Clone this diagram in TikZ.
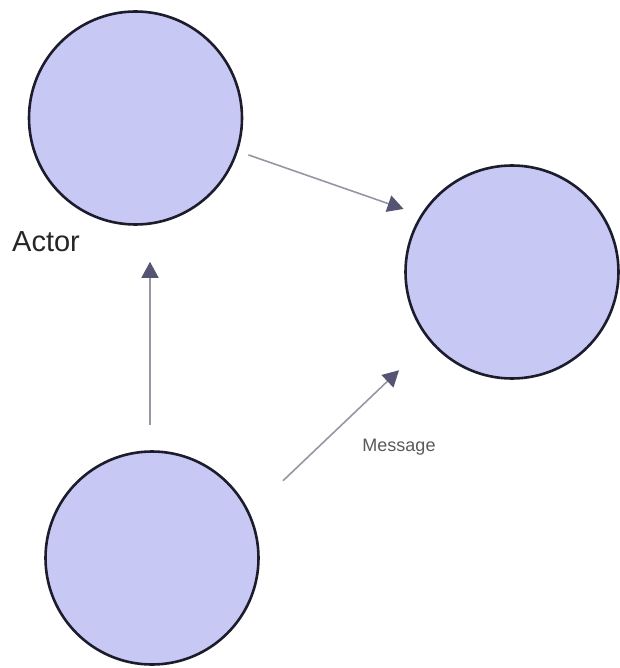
\documentclass[tikz,border=0pt]{standalone}
\usepackage{fontspec}
\setmainfont{Liberation Sans}
\usetikzlibrary{positioning,arrows.meta}
\definecolor{lav}{RGB}{200,200,245}
\definecolor{rim}{RGB}{28,28,44}
\definecolor{shaft}{RGB}{150,150,165}
\definecolor{tip}{RGB}{85,85,115}
\newcommand{\cnode}[2]{\node [circ] (#1) at (#2) {}}

\begin{document}
\begin{tikzpicture}[x=1pt,y=-1pt,
  circ/.style={circle, draw=rim, fill=lav, line width=2.6pt, minimum size=213pt, inner sep=0pt},
  msg/.style={draw=shaft, line width=1.6pt, -{Triangle[length=16pt,width=17pt,color=tip]}}]
\useasboundingbox (0,0) rectangle (619,668);

\cnode{A}{135.5,118};
\cnode{B}{512,272};
\cnode{C}{152,558};

\node [font=\fontsize{29}{33}\selectfont, text=black!85] (ACT) at (46,242) {Actor};
\node [font=\fontsize{18}{21}\selectfont, text=black!65] (MSG) at (399,447) {Message};

\draw[msg, shorten <=11pt, shorten >=18pt] (A.-18) -- (B.148);
\draw[msg, shorten <=25pt, shorten >=36pt] ([xshift=-2pt]C.north) -- ([xshift=-2pt]C.north |- A.south);
\draw[msg, shorten <=46pt, shorten >=42pt] (C.25) -- (B.220);

\end{tikzpicture}
\end{document}
